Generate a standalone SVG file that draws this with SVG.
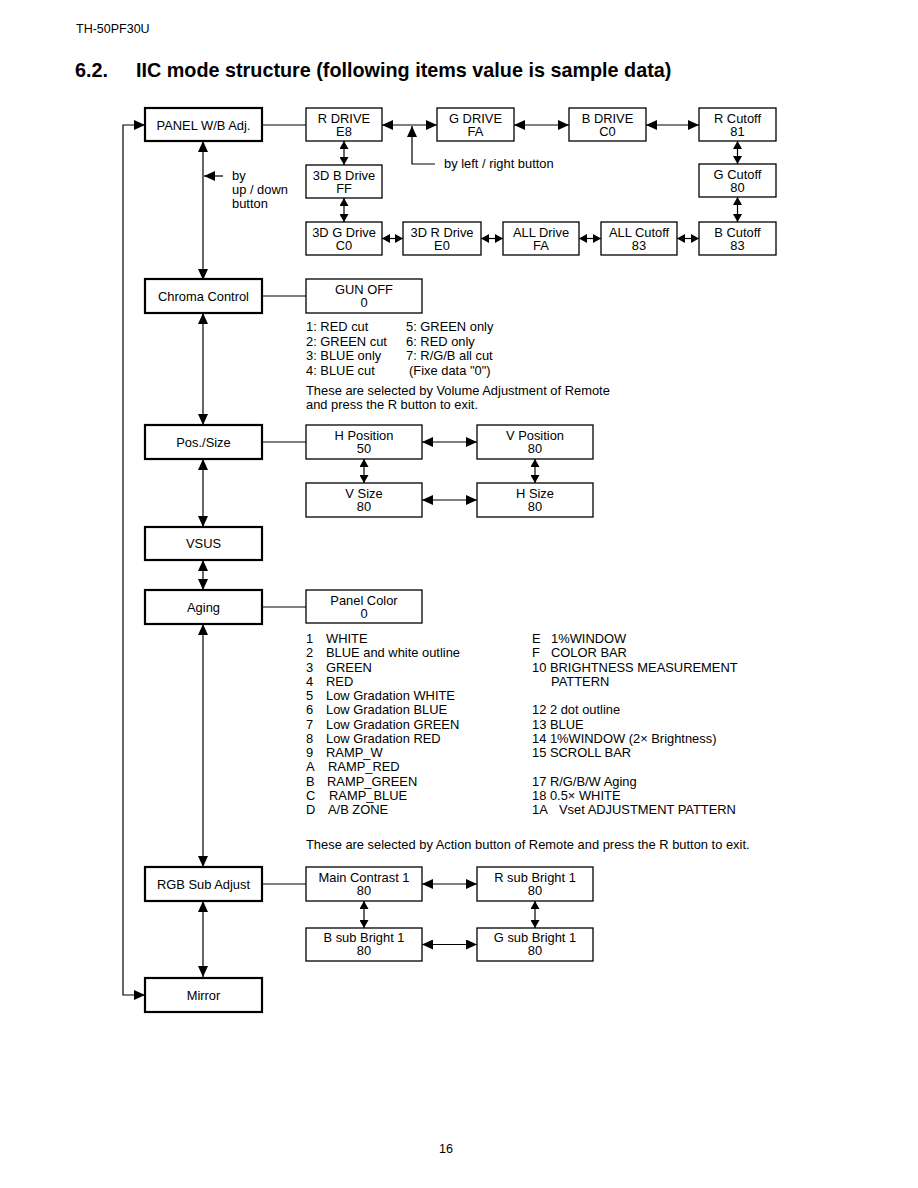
<svg xmlns="http://www.w3.org/2000/svg" width="918" height="1188" viewBox="0 0 918 1188">
<style>
text{font-family:"Liberation Sans",Arial,sans-serif;fill:#000}
.t{font-size:12.9px}
.c{text-anchor:middle}
.mb{fill:#fff;stroke:#000;stroke-width:2.2}
.b{fill:#fff;stroke:#000;stroke-width:1.3}
.ln{fill:none;stroke:#000;stroke-width:1.2}
.big{marker-start:url(#ah);marker-end:url(#ah)}
.sm{marker-start:url(#as);marker-end:url(#as)}
</style>
<defs>
<marker id="ah" markerUnits="userSpaceOnUse" markerWidth="11" markerHeight="10" refX="11" refY="5" orient="auto-start-reverse"><path d="M0,0 L11,5 L0,10 z" fill="#000"/></marker>
<marker id="as" markerUnits="userSpaceOnUse" markerWidth="8" markerHeight="9" refX="8" refY="4.5" orient="auto-start-reverse"><path d="M0,0 L8,4.5 L0,9 z" fill="#000"/></marker>
</defs>
<rect width="918" height="1188" fill="#fff"/>
<text x="76" y="33" style="font-size:12.5px">TH-50PF30U</text>
<text x="75" y="77" style="font-size:19.8px;font-weight:bold">6.2.</text>
<text x="136" y="77" style="font-size:19.8px;font-weight:bold">IIC mode structure (following items value is sample data)</text>
<text x="446" y="1153" class="c" style="font-size:12.5px">16</text>

<g id="connectors">
<path class="ln" d="M145,125 H123 V995 H145" marker-start="url(#ah)" marker-end="url(#ah)"/>
<path class="ln big" d="M203,141 V280"/>
<path class="ln" d="M223,176 H204" marker-end="url(#ah)"/>
<path class="ln big" d="M203,313 V425"/>
<path class="ln big" d="M203,459 V527"/>
<path class="ln big" d="M203,560 V590"/>
<path class="ln big" d="M203,624 V867"/>
<path class="ln big" d="M203,901 V977"/>
<path class="ln" d="M262,125 H306"/>
<path class="ln big" d="M382,125 H437"/>
<path class="ln big" d="M514,125 H569"/>
<path class="ln big" d="M646,125 H699"/>
<path class="ln" d="M435,164 H412 V126" marker-end="url(#ah)"/>
<path class="ln sm" d="M344,141 V165"/>
<path class="ln sm" d="M344,198 V222"/>
<path class="ln sm" d="M737.5,141 V164"/>
<path class="ln sm" d="M737.5,197 V222"/>
<path class="ln sm" d="M382,238.5 H403"/>
<path class="ln sm" d="M481,238.5 H503"/>
<path class="ln sm" d="M579,238.5 H601"/>
<path class="ln sm" d="M677,238.5 H699"/>
<path class="ln" d="M262,296 H306"/>
<path class="ln" d="M262,442 H306"/>
<path class="ln big" d="M422,442 H477"/>
<path class="ln sm" d="M364,459 V483"/>
<path class="ln sm" d="M535,459 V483"/>
<path class="ln big" d="M422,500 H477"/>
<path class="ln" d="M262,607 H306"/>
<path class="ln" d="M262,884 H306"/>
<path class="ln big" d="M422,884 H477"/>
<path class="ln sm" d="M364,901 V928"/>
<path class="ln sm" d="M535,901 V928"/>
<path class="ln big" d="M422,944.5 H477"/>
</g>

<g class="t">
<text x="232" y="180">by</text>
<text x="232" y="194">up / down</text>
<text x="232" y="208">button</text>
<text x="444" y="168">by left / right button</text>
</g>

<g id="panel-wb"><rect class="mb" x="145" y="108" width="117" height="33"/><text class="t c" x="203.5" y="129.5">PANEL W/B Adj.</text></g>
<g id="r-drive"><rect class="b" x="306" y="108" width="76" height="33"/><text class="t c" x="344" y="122.5">R DRIVE</text><text class="t c" x="344" y="135.5">E8</text></g>
<g id="g-drive"><rect class="b" x="437" y="108" width="77" height="33"/><text class="t c" x="475.5" y="122.5">G DRIVE</text><text class="t c" x="475.5" y="135.5">FA</text></g>
<g id="b-drive"><rect class="b" x="569" y="108" width="77" height="33"/><text class="t c" x="607.5" y="122.5">B DRIVE</text><text class="t c" x="607.5" y="135.5">C0</text></g>
<g id="r-cutoff"><rect class="b" x="699" y="108" width="77" height="33"/><text class="t c" x="737.5" y="122.5">R Cutoff</text><text class="t c" x="737.5" y="135.5">81</text></g>
<g id="g-cutoff"><rect class="b" x="699" y="164" width="77" height="33"/><text class="t c" x="737.5" y="178.5">G Cutoff</text><text class="t c" x="737.5" y="191.5">80</text></g>
<g id="b-cutoff"><rect class="b" x="699" y="222" width="77" height="33"/><text class="t c" x="737.5" y="236.5">B Cutoff</text><text class="t c" x="737.5" y="249.5">83</text></g>
<g id="3d-b-drive"><rect class="b" x="306" y="165" width="76" height="33"/><text class="t c" x="344" y="179.5">3D B Drive</text><text class="t c" x="344" y="192.5">FF</text></g>
<g id="3d-g-drive"><rect class="b" x="306" y="222" width="76" height="33"/><text class="t c" x="344" y="236.5">3D G Drive</text><text class="t c" x="344" y="249.5">C0</text></g>
<g id="3d-r-drive"><rect class="b" x="403" y="222" width="78" height="33"/><text class="t c" x="442" y="236.5">3D R Drive</text><text class="t c" x="442" y="249.5">E0</text></g>
<g id="all-drive"><rect class="b" x="503" y="222" width="76" height="33"/><text class="t c" x="541" y="236.5">ALL Drive</text><text class="t c" x="541" y="249.5">FA</text></g>
<g id="all-cutoff"><rect class="b" x="601" y="222" width="76" height="33"/><text class="t c" x="639" y="236.5">ALL Cutoff</text><text class="t c" x="639" y="249.5">83</text></g>

<g id="chroma-control"><rect class="mb" x="145" y="279" width="117" height="34"/><text class="t c" x="203.5" y="300.5">Chroma Control</text></g>
<g id="gun-off"><rect class="b" x="306" y="279" width="116" height="34"/><text class="t c" x="364" y="293.5">GUN OFF</text><text class="t c" x="364" y="306.5">0</text></g>
<g class="t">
<text x="306" y="331">1: RED cut</text>
<text x="306" y="345.5">2: GREEN cut</text>
<text x="306" y="360">3: BLUE only</text>
<text x="306" y="374.5">4: BLUE cut</text>
<text x="406" y="331">5: GREEN only</text>
<text x="406" y="345.5">6: RED only</text>
<text x="406" y="360">7: R/G/B all cut</text>
<text x="409" y="374.5">(Fixe data "0")</text>
<text x="306" y="394.5">These are selected by Volume Adjustment of Remote</text>
<text x="306" y="409">and press the R button to exit.</text>
</g>

<g id="pos-size"><rect class="mb" x="145" y="425" width="117" height="34"/><text class="t c" x="203.5" y="446.5">Pos./Size</text></g>
<g id="h-position"><rect class="b" x="306" y="425" width="116" height="34"/><text class="t c" x="364" y="439.5">H Position</text><text class="t c" x="364" y="452.5">50</text></g>
<g id="v-position"><rect class="b" x="477" y="425" width="116" height="34"/><text class="t c" x="535" y="439.5">V Position</text><text class="t c" x="535" y="452.5">80</text></g>
<g id="v-size"><rect class="b" x="306" y="483" width="116" height="34"/><text class="t c" x="364" y="497.5">V Size</text><text class="t c" x="364" y="510.5">80</text></g>
<g id="h-size"><rect class="b" x="477" y="483" width="116" height="34"/><text class="t c" x="535" y="497.5">H Size</text><text class="t c" x="535" y="510.5">80</text></g>

<g id="vsus"><rect class="mb" x="145" y="527" width="117" height="33"/><text class="t c" x="203.5" y="548">VSUS</text></g>

<g id="aging"><rect class="mb" x="145" y="590" width="117" height="34"/><text class="t c" x="203.5" y="611.5">Aging</text></g>
<g id="panel-color"><rect class="b" x="306" y="590" width="116" height="33"/><text class="t c" x="364" y="604.5">Panel Color</text><text class="t c" x="364" y="617.5">0</text></g>
<g class="t">
<text x="306" y="643">1</text><text x="326" y="643">WHITE</text>
<text x="306" y="657.3">2</text><text x="326" y="657.3">BLUE and white outline</text>
<text x="306" y="671.5">3</text><text x="326" y="671.5">GREEN</text>
<text x="306" y="685.8">4</text><text x="326" y="685.8">RED</text>
<text x="306" y="700">5</text><text x="326" y="700">Low Gradation WHITE</text>
<text x="306" y="714.3">6</text><text x="326" y="714.3">Low Gradation BLUE</text>
<text x="306" y="728.5">7</text><text x="326" y="728.5">Low Gradation GREEN</text>
<text x="306" y="742.8">8</text><text x="326" y="742.8">Low Gradation RED</text>
<text x="306" y="757">9</text><text x="326" y="757">RAMP_W</text>
<text x="306" y="771.3">A</text><text x="328" y="771.3">RAMP_RED</text>
<text x="306" y="785.5">B</text><text x="327" y="785.5">RAMP_GREEN</text>
<text x="306" y="799.8">C</text><text x="329" y="799.8">RAMP_BLUE</text>
<text x="306" y="814">D</text><text x="328" y="814">A/B ZONE</text>
<text x="532" y="643">E</text><text x="551" y="643">1%WINDOW</text>
<text x="532" y="657.3">F</text><text x="551" y="657.3">COLOR BAR</text>
<text x="532" y="671.5">10 BRIGHTNESS MEASUREMENT</text>
<text x="551" y="685.8">PATTERN</text>
<text x="532" y="714.3">12 2 dot outline</text>
<text x="532" y="728.5">13 BLUE</text>
<text x="532" y="742.8">14 1%WINDOW (2× Brightness)</text>
<text x="532" y="757">15 SCROLL BAR</text>
<text x="532" y="785.5">17 R/G/B/W Aging</text>
<text x="532" y="799.8">18 0.5× WHITE</text>
<text x="532" y="814">1A</text><text x="559" y="814">Vset ADJUSTMENT PATTERN</text>
<text x="306" y="849">These are selected by Action button of Remote and press the R button to exit.</text>
</g>

<g id="rgb-sub-adjust"><rect class="mb" x="145" y="867" width="117" height="34"/><text class="t c" x="203.5" y="888.5">RGB Sub Adjust</text></g>
<g id="main-contrast"><rect class="b" x="306" y="867" width="116" height="34"/><text class="t c" x="364" y="881.5">Main Contrast 1</text><text class="t c" x="364" y="894.5">80</text></g>
<g id="r-sub-bright"><rect class="b" x="477" y="867" width="116" height="34"/><text class="t c" x="535" y="881.5">R sub Bright 1</text><text class="t c" x="535" y="894.5">80</text></g>
<g id="b-sub-bright"><rect class="b" x="306" y="928" width="116" height="33"/><text class="t c" x="364" y="942">B sub Bright 1</text><text class="t c" x="364" y="955">80</text></g>
<g id="g-sub-bright"><rect class="b" x="477" y="928" width="116" height="33"/><text class="t c" x="535" y="942">G sub Bright 1</text><text class="t c" x="535" y="955">80</text></g>

<g id="mirror"><rect class="mb" x="145" y="978" width="117" height="34"/><text class="t c" x="203.5" y="999.5">Mirror</text></g>
</svg>
